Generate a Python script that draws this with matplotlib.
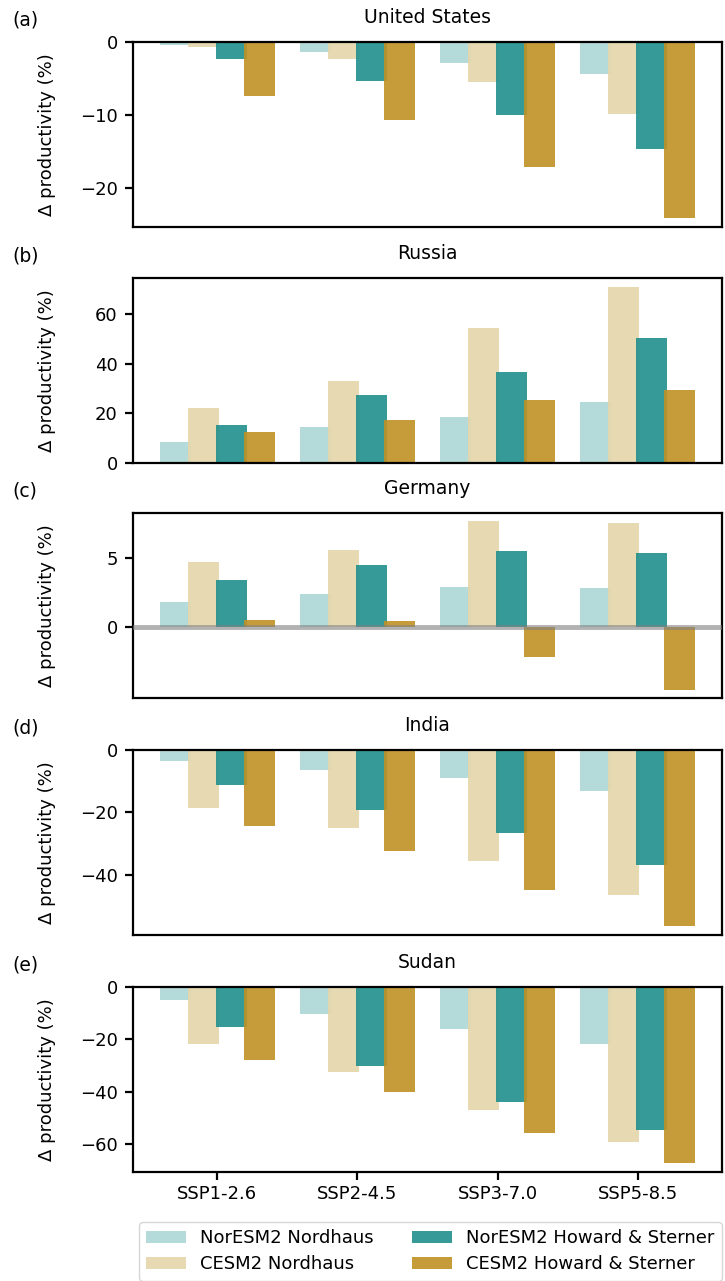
import numpy as np
import matplotlib
matplotlib.use("Agg")
import matplotlib.pyplot as plt

scenarios = ["SSP1-2.6", "SSP2-4.5", "SSP3-7.0", "SSP5-8.5"]
series_names = ["NorESM2 Nordhaus", "CESM2 Nordhaus",
                "NorESM2 Howard & Sterner", "CESM2 Howard & Sterner"]
countries = ["United States", "Russia", "Germany", "India", "Sudan"]
panel_tags = ["(a)", "(b)", "(c)", "(d)", "(e)"]

# values per country: rows = series (NorN, CESMN, NorHS, CESMHS), cols = scenarios
us = [[-0.45, -1.36, -2.85, -4.43],
      [-0.72, -2.26, -5.5, -9.86],
      [-2.26, -5.34, -9.95, -14.66],
      [-7.4, -10.7, -17.06, -24.1]]
russia = [[8.5, 14.3, 18.7, 24.4],
          [22.0, 32.8, 54.2, 70.9],
          [15.4, 27.5, 36.8, 50.2],
          [12.5, 17.3, 25.4, 29.5]]
germany = [[1.85, 2.42, 2.91, 2.87],
           [4.76, 5.59, 7.68, 7.58],
           [3.41, 4.48, 5.52, 5.40],
           [0.55, 0.43, -2.13, -4.53]]
india = [[-3.6, -6.3, -9.1, -13.2],
         [-18.7, -25.0, -35.6, -46.5],
         [-11.2, -19.2, -26.7, -36.9],
         [-24.5, -32.3, -44.9, -56.5]]
sudan = [[-5.0, -10.4, -16.2, -21.8],
         [-21.9, -32.3, -47.0, -59.0],
         [-15.3, -30.3, -43.8, -54.6],
         [-27.7, -39.9, -55.7, -67.2]]
data = [us, russia, germany, india, sudan]

colors = ["#acd7d5", "#e5d6ab", "#1f8f8d", "#c09125"]

plt.rcParams["font.family"] = "DejaVu Sans"
fig = plt.figure(figsize=(7.25, 12.81), dpi=100)
W, H = 725, 1281
left, right = 133, 722
tops = [42, 278, 513, 750, 987]
height = 185

x = np.arange(len(scenarios))
offsets = [-0.3, -0.1, 0.1, 0.3]
width = 0.22

axes = []
for i, (country, vals) in enumerate(zip(countries, data)):
    ax = fig.add_axes([left / W, 1 - (tops[i] + height) / H,
                       (right - left) / W, height / H])
    axes.append(ax)
    for j in range(4):
        ax.bar(x + offsets[j], vals[j], width=width, color=colors[j],
               alpha=0.9, label=series_names[j])
    if country == "Germany":
        ax.axhline(0, color="gray", lw=3.5, alpha=0.6, zorder=5)
    ax.set_title(country, fontsize=13.5, pad=14)
    ax.set_ylabel("Δ productivity (%)", fontsize=13)
    ax.yaxis.set_label_coords(-0.146, 0.5)
    ax.yaxis.label.set_va("center")
    ax.text(12 / (right - left) - left / (right - left), 1 + 22 / height,
            panel_tags[i], transform=ax.transAxes,
            fontsize=13.5, ha="left", va="center")
    ax.set_xticks(x)
    for s in ax.spines.values():
        s.set_linewidth(1.6)
    ax.tick_params(axis="y", labelsize=13, width=1.6, length=6, pad=5)
    ax.tick_params(axis="x", labelsize=13, width=1.6, length=6)
    if i < 4:
        ax.tick_params(axis="x", bottom=False, labelbottom=False)
    else:
        ax.set_xticklabels(scenarios)

axes[0].set_yticks([0, -10, -20])
axes[1].set_yticks([0, 20, 40, 60])
axes[2].set_yticks([0, 5])
axes[3].set_yticks([0, -20, -40])
axes[4].set_yticks([0, -20, -40, -60])

handles, labels = axes[4].get_legend_handles_labels()
fig.legend(handles, labels, ncol=2, fontsize=13,
           loc="upper left", bbox_to_anchor=(139 / W, 1 - 1222 / H, (722 - 139) / W, 0),
           mode="expand", handlelength=2.2, columnspacing=1.0,
           borderaxespad=0.0, framealpha=0.8, labelspacing=0.45)

fig.savefig("out.png", dpi=100)
